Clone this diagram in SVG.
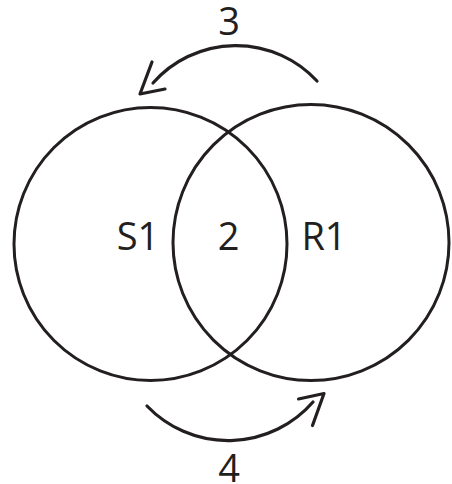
<svg xmlns="http://www.w3.org/2000/svg" width="452" height="484" viewBox="0 0 452 484">
  <style>
    .ring { fill: none; stroke: #231f20; stroke-width: 3; }
    .lbl { font-family: "Open Sans", "Noto Sans", "DejaVu Sans", sans-serif; font-size: 38px; fill: #231f20; text-anchor: middle; }
    .conn { fill: none; stroke: #231f20; stroke-width: 3.2; stroke-linecap: round; stroke-linejoin: round; }
  </style>
  <rect width="452" height="484" fill="#ffffff"/>
  <g id="node-S1">
    <circle class="ring" cx="150.5" cy="244" r="136.5"/>
    <text class="lbl" x="138" y="250">S1</text>
  </g>
  <g id="node-R1">
    <circle class="ring" cx="311" cy="242.5" r="138"/>
    <text class="lbl" x="324" y="250">R1</text>
  </g>
  <g id="node-overlap">
    <text class="lbl" x="228.5" y="250">2</text>
  </g>
  <g id="connectors">
    <g id="arrow-3">
      <path class="conn" d="M317,81 A110.5,110.5 0 0 0 153,83"/>
      <polyline class="conn" points="152,62 140,94 165,89"/>
      <text class="lbl" x="229" y="35">3</text>
    </g>
    <g id="arrow-4">
      <path class="conn" d="M147,406 A112.5,112.5 0 0 0 313,402"/>
      <polyline class="conn" points="298.5,399 324,393.5 312.5,425.5"/>
      <text class="lbl" x="229" y="482">4</text>
    </g>
  </g>
</svg>
